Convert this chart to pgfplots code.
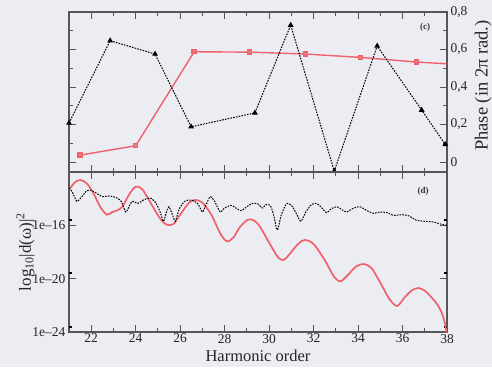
\documentclass[border=0pt]{standalone}
\usepackage{fontspec}
\setmainfont{Liberation Serif}
\usepackage{pgfplots}
\pgfplotsset{compat=1.18}
\definecolor{bg}{RGB}{236,236,243}
\definecolor{axc}{RGB}{85,85,90}
\definecolor{redc}{RGB}{238,98,108}
\begin{document}
\begin{tikzpicture}
\fill[bg] (0,0) rectangle (492pt,367pt);
\useasboundingbox (0,0) rectangle (492pt,367pt);
\pgfplotsset{
 myaxis/.style={width=378pt,height=160pt,scale only axis,anchor=south west,
  xmin=21,xmax=38,xtick={22,24,...,38},minor xtick={21,23,...,37},
  axis line style={axc,line width=1.1pt},
  every tick/.style={axc,line width=1pt},
  major tick length=7pt,minor tick length=4pt,tick align=inside,
  /pgf/number format/assume math mode=true,
  tick label style={font=\fontsize{13.5}{15}\selectfont,text=black!85},
  label style={font=\fontsize{17}{20}\selectfont,text=black!85},
 },
}
% ---------------- top panel (c) ----------------
\begin{axis}[myaxis,at={(69pt,195pt)},
  ymin=-0.053,ymax=0.8,
  ytick={0,0.2,0.4,0.6,0.8},yticklabels={0,{0,2},{0,4},{0,6},{0,8}},
  minor ytick={0.1,0.3,0.5,0.7},
  xticklabels={},
  ytick pos=both,yticklabel pos=right,
  ylabel={Phase (in 2π rad.)},
  ylabel style={at={(axis description cs:1.096,0.54)},anchor=center,rotate=0,font=\fontsize{18.5}{20}\selectfont},
]
\addplot[redc,line width=1.4pt,mark=square*,mark size=2pt,
  mark options={fill=redc!85,draw=redc},mark indices={1,2,3,4,5,6,7}]
 coordinates {(21.5,0.037) (24.0,0.087) (26.63,0.588) (29.12,0.586)
  (31.63,0.576) (34.1,0.558) (36.63,0.533) (38.0,0.524)};
\addplot[black,line width=1pt,dash pattern=on 1.6pt off 1.2pt,
  mark=triangle*,mark size=2.4pt,mark options={solid,fill=black}]
 coordinates {(21.0,0.208) (22.85,0.647) (24.87,0.576) (26.49,0.188)
  (29.36,0.262) (30.97,0.73) (32.93,-0.048) (34.86,0.619)
  (36.86,0.277) (37.92,0.094)};
\node[font=\fontsize{9}{10}\selectfont\bfseries,text=black!80] at (axis description cs:0.942,0.906) {(c)};
\end{axis}
% ---------------- bottom panel (d) ----------------
\begin{axis}[myaxis,at={(69pt,35pt)},
  ymin=-24,ymax=-12,
  ytick={-24,-20,-16},
  yticklabels={1e\textendash24,1e\textendash20,1e\textendash16},
  ytick pos=both,yticklabel pos=left,
  extra y ticks={-23.6,-19.6,-15.6},extra y tick labels={},
  extra y tick style={major tick length=3pt,tick style={line width=2.2pt,black}},
  xticklabel style={yshift=1.5pt},
  xlabel={Harmonic order},
  xlabel style={at={(axis description cs:0.5,-0.148)},anchor=center,font=\fontsize{16.5}{18}\selectfont},
  ylabel={log\textsubscript{10}|d(ω)|\textsuperscript{2}},
  ylabel style={at={(axis description cs:-0.115,0.5)},anchor=center},
]
\addplot[redc,line width=1.7pt,smooth,tension=0.5] coordinates {
 (21.0,-13.35) (21.25,-12.8) (21.5,-12.6) (21.8,-12.85) (22.1,-13.6)
 (22.4,-14.6) (22.7,-15.2) (22.95,-15.0) (23.2,-14.85) (23.4,-14.6)
 (23.7,-13.7) (24.0,-13.1) (24.3,-13.3) (24.7,-14.4) (25.1,-15.5)
 (25.4,-15.95) (25.7,-15.9) (26.0,-15.2) (26.4,-14.3) (26.7,-14.1)
 (27.0,-14.3) (27.4,-15.2) (27.8,-16.6) (28.1,-17.2) (28.4,-16.9)
 (28.7,-16.1) (29.1,-15.55) (29.5,-15.9) (30.0,-17.3) (30.4,-18.4)
 (30.65,-18.6) (30.9,-18.2) (31.3,-17.4) (31.6,-17.1) (32.0,-17.4)
 (32.5,-18.6) (32.9,-19.8) (33.2,-20.2) (33.5,-19.8) (33.9,-19.1)
 (34.25,-18.9) (34.6,-19.2) (35.0,-20.3) (35.4,-21.5) (35.75,-22.05)
 (36.1,-21.4) (36.4,-20.9) (36.7,-20.7) (37.0,-20.9) (37.3,-21.4)
 (37.55,-21.9) (37.75,-22.5) (37.9,-23.3) (38.0,-24.2)};
\addplot[black,line width=1pt,dash pattern=on 1.6pt off 1.2pt,smooth,tension=0.4] coordinates {
 (21.0,-13.2) (21.15,-13.5) (21.35,-14.2) (21.55,-13.9) (21.8,-13.4)
 (21.95,-13.35) (22.2,-13.55) (22.5,-13.85) (22.8,-13.8) (23.1,-13.9)
 (23.35,-14.2) (23.55,-15.0) (23.7,-14.6) (23.85,-14.2) (24.1,-14.35)
 (24.35,-14.1) (24.65,-13.95) (24.9,-14.3) (25.1,-15.0) (25.25,-15.7)
 (25.4,-14.9) (25.5,-14.6) (25.65,-15.2) (25.78,-15.7) (25.95,-14.8)
 (26.2,-14.2) (26.5,-14.1) (26.8,-14.4) (27.0,-15.0) (27.15,-14.5)
 (27.35,-13.85) (27.55,-14.2) (27.8,-15.0) (28.0,-14.7) (28.3,-14.5)
 (28.5,-14.7) (28.75,-14.9) (29.0,-14.6) (29.25,-14.35) (29.5,-14.4)
 (29.7,-14.7) (29.85,-14.45) (30.05,-14.5) (30.2,-15.2) (30.37,-16.35)
 (30.55,-15.2) (30.8,-14.35) (31.05,-14.6) (31.25,-15.2) (31.43,-15.7)
 (31.65,-15.0) (31.9,-14.45) (32.13,-14.35) (32.35,-14.65) (32.58,-15.05)
 (32.8,-14.75) (33.05,-14.6) (33.25,-14.8) (33.48,-15.0) (33.75,-14.75)
 (34.07,-14.6) (34.4,-14.9) (34.7,-15.1) (35.0,-15.0) (35.3,-15.05)
 (35.6,-15.25) (36.0,-15.2) (36.3,-15.3) (36.6,-15.6) (37.0,-15.7)
 (37.4,-15.75) (37.7,-15.9) (38.0,-16.0)};
\node[font=\fontsize{9}{10}\selectfont\bfseries,text=black!80] at (axis description cs:0.937,0.877) {(d)};
\end{axis}
\end{tikzpicture}
\end{document}
